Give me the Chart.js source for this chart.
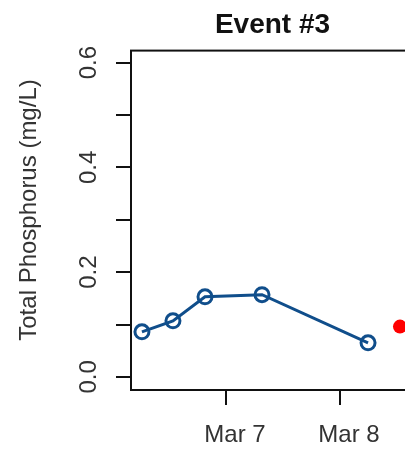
<!DOCTYPE html>
<html>
<head>
<meta charset="utf-8">
<script src="https://cdn.jsdelivr.net/npm/chart.js@4"></script>
<style>
  html, body { margin: 0; padding: 0; background: #fff; overflow: hidden; }
  #wrap { width: 424px; height: 452px; }
</style>
</head>
<body>
<div id="wrap"><canvas id="myChart"></canvas></div>
<script>
// days counted from Mar 7 00:00
const sampleDays = [-0.737, -0.465, -0.184, 0.316, 1.246];
const phosphorus = [0.086, 0.107, 0.153, 0.157, 0.065];
const extraDays = [1.526];
const extraPhosphorus = [0.096];

const dayTicks = [0, 1];
const dayLabels = ['Mar 7', 'Mar 8'];
const yTicks = [0, 0.1, 0.2, 0.3, 0.4, 0.5, 0.6];
const yLabels = ['0.0', '', '0.2', '', '0.4', '', '0.6'];

const family = '"Liberation Sans", Arial, Helvetica, sans-serif';
const ink = '#111';
const grey = '#333';

// box around the plot + rotated y labels, R style
const frame = {
  id: 'frame',
  afterDraw(chart) {
    const { ctx, chartArea: a, scales: { y } } = chart;
    ctx.save();
    ctx.strokeStyle = ink;
    ctx.lineWidth = 2;
    ctx.strokeRect(a.left, a.top, a.right - a.left, a.bottom - a.top);

    ctx.fillStyle = grey;
    ctx.font = '24px ' + family;
    ctx.textAlign = 'center';
    ctx.textBaseline = 'middle';
    yTicks.forEach((v, i) => {
      if (!yLabels[i]) return;
      ctx.save();
      ctx.translate(y.right - 42, y.getPixelForValue(v));
      ctx.rotate(-Math.PI / 2);
      ctx.fillText(yLabels[i], 0, 0);
      ctx.restore();
    });

    ctx.save();
    ctx.font = '24px ' + family;
    ctx.translate(29, 210);
    ctx.rotate(-Math.PI / 2);
    ctx.fillText('Total Phosphorus (mg/L)', 0, 0);
    ctx.restore();
    ctx.restore();
  }
};

new Chart(document.getElementById('myChart'), {
  type: 'line',
  data: {
    datasets: [{
      data: sampleDays.map((d, i) => ({ x: d, y: phosphorus[i] })),
      borderColor: '#104E8B',
      borderWidth: 3,
      tension: 0,
      pointRadius: 7,
      pointBorderWidth: 3,
      pointBorderColor: '#104E8B',
      pointBackgroundColor: 'rgba(0,0,0,0)'
    }, {
      data: extraDays.map((d, i) => ({ x: d, y: extraPhosphorus[i] })),
      showLine: false,
      pointRadius: 7,
      pointBorderWidth: 0,
      pointBackgroundColor: '#ff0000',
      pointBorderColor: '#ff0000'
    }]
  },
  options: {
    responsive: true,
    maintainAspectRatio: false,
    animation: false,
    layout: { padding: 0 },
    plugins: {
      legend: { display: false },
      tooltip: { enabled: false },
      title: {
        display: true,
        text: 'Event #3',
        fullSize: false,
        color: ink,
        font: { size: 28, weight: 'bold', family: family },
        padding: { top: 8, bottom: 9 }
      }
    },
    scales: {
      x: {
        type: 'linear',
        min: -0.833,
        max: 1.649,
        afterBuildTicks: s => { s.ticks = dayTicks.map(v => ({ value: v })); },
        afterFit: s => { s.height = 62; },
        ticks: {
          callback: v => dayLabels[dayTicks.indexOf(v)] ?? '',
          font: { size: 24, family: family },
          color: grey,
          labelOffset: 9,
          padding: 16,
          maxRotation: 0,
          autoSkip: false
        },
        grid: { drawOnChartArea: false, tickLength: 15, color: ink, lineWidth: 2 },
        border: { color: ink, width: 2 }
      },
      y: {
        min: -0.025,
        max: 0.623,
        afterBuildTicks: s => { s.ticks = yTicks.map(v => ({ value: v })); },
        afterFit: s => { s.width = 131; },
        ticks: { display: false },
        grid: { drawOnChartArea: false, tickLength: 15, color: ink, lineWidth: 2 },
        border: { color: ink, width: 2 }
      }
    }
  },
  plugins: [frame]
});
</script>
</body>
</html>
